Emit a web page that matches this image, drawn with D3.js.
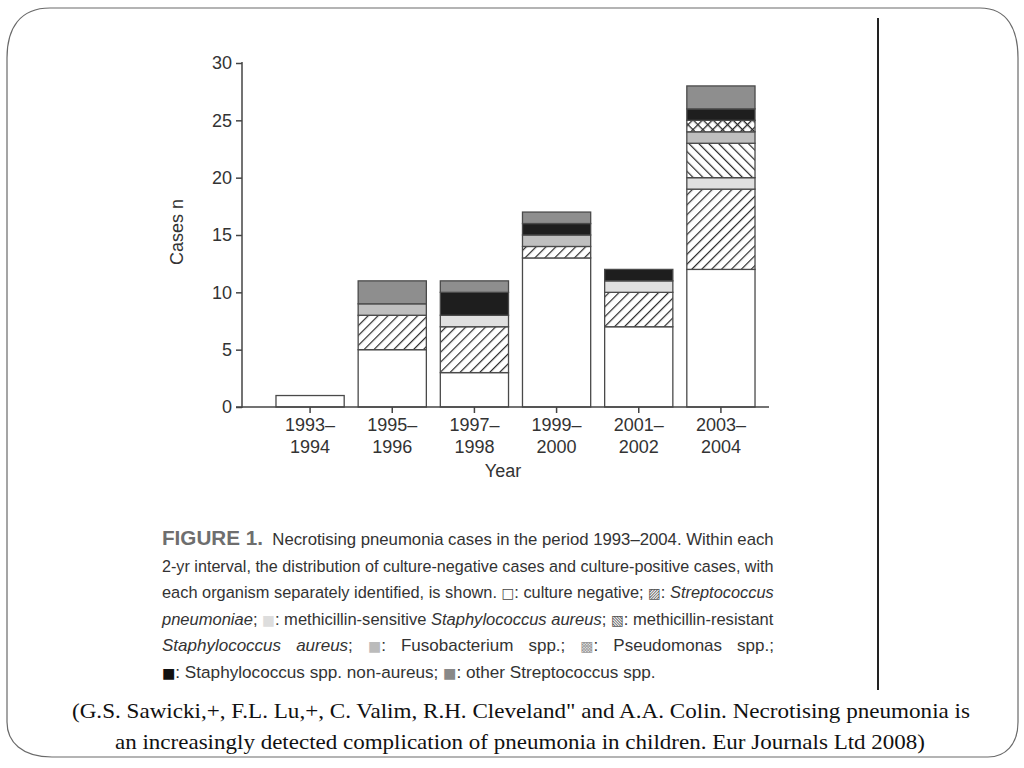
<!DOCTYPE html>
<html><head><meta charset="utf-8">
<script src="https://cdn.jsdelivr.net/npm/d3@7/dist/d3.min.js"></script>
<style>html,body{margin:0;padding:0;background:#fff;}svg{display:block;}</style>
</head><body>
<svg id="chart" width="1024" height="768"></svg>
<script>
// ---- data ----
const categories = ["1993–1994","1995–1996","1997–1998","1999–2000","2001–2002","2003–2004"];
const seriesKeys = ["cultureNegative","sPneumoniae","mssa","mrsa","fusobacterium","pseudomonas","staphNonAureus","otherStrep"];
const cultureNegative = [1,5,3,13,7,12];
const sPneumoniae     = [0,3,4,1,3,7];
const mssa            = [0,0,1,0,1,1];
const mrsa            = [0,0,0,0,0,3];
const fusobacterium   = [0,1,0,1,0,1];
const pseudomonas     = [0,0,0,0,0,1];
const staphNonAureus  = [0,0,2,1,1,1];
const otherStrep      = [0,2,1,1,0,2];
const yTicks = [0,5,10,15,20,25,30];

const seriesData = {cultureNegative,sPneumoniae,mssa,mrsa,fusobacterium,pseudomonas,staphNonAureus,otherStrep};
const rows = categories.map((c,i)=>{const r={cat:c}; seriesKeys.forEach(k=>r[k]=seriesData[k][i]); return r;});

const fills = {
  cultureNegative:"#ffffff",
  sPneumoniae:"url(#hatchFwd)",
  mssa:"#e0e0e0",
  mrsa:"url(#hatchBack)",
  fusobacterium:"#bfbfbf",
  pseudomonas:"url(#crossHatch)",
  staphNonAureus:"#1e1e1e",
  otherStrep:"#8e8e8e"
};

const svg = d3.select("#chart");
const defs = svg.append("defs");
function hatch(id, angle, lines, sw){
  const p = defs.append("pattern").attr("id",id).attr("patternUnits","userSpaceOnUse")
    .attr("width",7).attr("height",7).attr("patternTransform",`rotate(${angle})`);
  p.append("rect").attr("width",7).attr("height",7).attr("fill","#fff");
  lines.forEach(l=>p.append("line").attr("x1",l[0]).attr("y1",l[1]).attr("x2",l[2]).attr("y2",l[3])
    .attr("stroke","#2a2a2a").attr("stroke-width",sw));
}
hatch("hatchFwd",45,[[0.6,0,0.6,7]],1.2);
hatch("hatchBack",-45,[[0.6,0,0.6,7]],1.2);
hatch("crossHatch",45,[[0.6,0,0.6,7],[0,0.6,7,0.6]],1.4);

// ---- frame ----
const frame = d3.path();
frame.moveTo(50,8); frame.lineTo(980,8);
frame.bezierCurveTo(1008,8,1018,30,1018,58);
frame.lineTo(1018,722);
frame.bezierCurveTo(1018,745,1005,757,988,757);
frame.lineTo(52,757);
frame.bezierCurveTo(22,757,7,742,7,722);
frame.lineTo(7,58);
frame.bezierCurveTo(7,28,20,8,50,8);
svg.append("path").attr("d",frame.toString()).attr("fill","none").attr("stroke","#6a6a6a").attr("stroke-width",1.2);

svg.append("line").attr("x1",878).attr("x2",878).attr("y1",18).attr("y2",690)
  .attr("stroke","#222").attr("stroke-width",2);

// ---- scales ----
const y = d3.scaleLinear().domain([0,30]).range([407,63]);
const x = d3.scaleBand().domain(categories).range([269,762]).paddingInner(0.17).paddingOuter(0.085);

const stack = d3.stack().keys(seriesKeys)(rows);
const g = svg.append("g");
stack.forEach(s=>{
  g.selectAll(null).data(s.filter(d=>d[1]-d[0]>0)).enter().append("rect")
    .attr("x",d=>x(d.data.cat)).attr("width",x.bandwidth())
    .attr("y",d=>y(d[1])).attr("height",d=>y(d[0])-y(d[1]))
    .attr("fill",fills[s.key]).attr("stroke","#4a4a4a").attr("stroke-width",1.3);
});

// ---- axes ----
const axisColor="#444";
const yAxis = svg.append("g").attr("transform","translate(242,0)")
  .call(d3.axisLeft(y).tickValues(yTicks).tickSize(6).tickPadding(4));
yAxis.select(".domain").remove();
yAxis.selectAll(".tick line").attr("stroke",axisColor).attr("stroke-width",1.5);
yAxis.selectAll("text").attr("font-family","'Liberation Sans',Arial,sans-serif").attr("font-size",18).attr("fill","#333");
svg.append("line").attr("x1",242).attr("x2",242).attr("y1",62).attr("y2",408).attr("stroke",axisColor).attr("stroke-width",1.5);
svg.append("line").attr("x1",236).attr("x2",769).attr("y1",407).attr("y2",407).attr("stroke",axisColor).attr("stroke-width",1.5);

const xAxis = svg.append("g").attr("transform","translate(0,407)")
  .call(d3.axisBottom(x).tickSize(6).tickFormat(""));
xAxis.select(".domain").remove();
xAxis.selectAll(".tick line").attr("stroke",axisColor).attr("stroke-width",1.5);
xAxis.selectAll(".tick").append("text")
  .attr("font-family","'Liberation Sans',Arial,sans-serif").attr("font-size",18).attr("fill","#333")
  .attr("text-anchor","middle")
  .each(function(d){
    const parts = d.split("–");
    const t = d3.select(this);
    t.append("tspan").attr("x",0).attr("y",24).text(parts[0]+"–");
    t.append("tspan").attr("x",0).attr("y",46).text(parts[1]);
  });

svg.append("text").attr("x",503).attr("y",477).attr("text-anchor","middle")
  .attr("font-family","'Liberation Sans',Arial,sans-serif").attr("font-size",18).attr("fill","#333").text("Year");
svg.append("text").attr("transform","translate(183,232) rotate(-90)").attr("text-anchor","middle")
  .attr("font-family","'Liberation Sans',Arial,sans-serif").attr("font-size",18).attr("fill","#333").text("Cases n");

// ---- caption ----
const capLeft = 162, capRight = 774;
const capLines = [
  [{t:"FIGURE 1.",b:true},{t:"  Necrotising pneumonia cases in the period 1993–2004. Within each"}],
  [{t:"2-yr interval, the distribution of culture-negative cases and culture-positive cases, with"}],
  [{t:"each organism separately identified, is shown. "},{t:"□",f:"#444"},{t:": culture negative; "},{t:"▨",f:"#555"},{t:": "},{t:"Streptococcus",i:true}],
  [{t:"pneumoniae",i:true},{t:"; "},{t:"■",f:"#dddddd"},{t:": methicillin-sensitive "},{t:"Staphylococcus aureus",i:true},{t:"; "},{t:"▧",f:"#555"},{t:": methicillin-resistant"}],
  [{t:"Staphylococcus aureus",i:true},{t:"; "},{t:"■",f:"#bbbbbb"},{t:": Fusobacterium spp.; "},{t:"▩",f:"#999"},{t:": Pseudomonas spp.;"}],
  [{t:"■",f:"#111"},{t:": Staphylococcus spp. non-aureus; "},{t:"■",f:"#888"},{t:": other Streptococcus spp."}]
];
const capBase = [545,572,598,625,651,678];
capLines.forEach((segs,li)=>{
  const txt = svg.append("text").attr("x",0).attr("y",0)
    .attr("transform",`translate(${capLeft},${capBase[li]})`)
    .attr("font-family","'Liberation Sans',Arial,sans-serif").attr("font-size",17).attr("fill","#333")
    .attr("xml:space","preserve");
  segs.forEach(s=>{
    const ts = txt.append("tspan").text(s.t);
    if(s.b){ts.attr("font-weight","bold").attr("font-size",21).attr("fill","#6e6e6e");}
    if(s.i) ts.attr("font-style","italic");
    if(s.f) ts.attr("fill",s.f).attr("font-family","'DejaVu Sans',sans-serif").attr("font-size",14);
  });
  const node = txt.node();
  const len = node.getComputedTextLength();
  const target = li<5 ? capRight - capLeft : 656 - capLeft;
  if(len>target || li===5){
    txt.attr("transform",`translate(${capLeft},${capBase[li]}) scale(${(target/len).toFixed(4)},1)`);
  } else {
    const spaces = segs.map(s=>s.t).join("").split(" ").length-1;
    txt.attr("word-spacing",((target-len)/spaces).toFixed(2));
  }
});

// ---- citation ----
const cite = [
  {t:"(G.S. Sawicki,+, F.L. Lu,+, C. Valim, R.H. Cleveland\" and A.A. Colin. Necrotising pneumonia is", y:718, x0:72, x1:970},
  {t:"an increasingly detected complication of pneumonia in children. Eur Journals Ltd 2008)", y:749, x0:115, x1:925}
];
cite.forEach(c=>{
  svg.append("text").attr("x",c.x0).attr("y",c.y)
    .attr("font-family","'Liberation Serif','Times New Roman',serif").attr("font-size",22).attr("fill","#111")
    .attr("textLength",c.x1-c.x0).attr("lengthAdjust","spacingAndGlyphs").text(c.t);
});
</script>
</body></html>
